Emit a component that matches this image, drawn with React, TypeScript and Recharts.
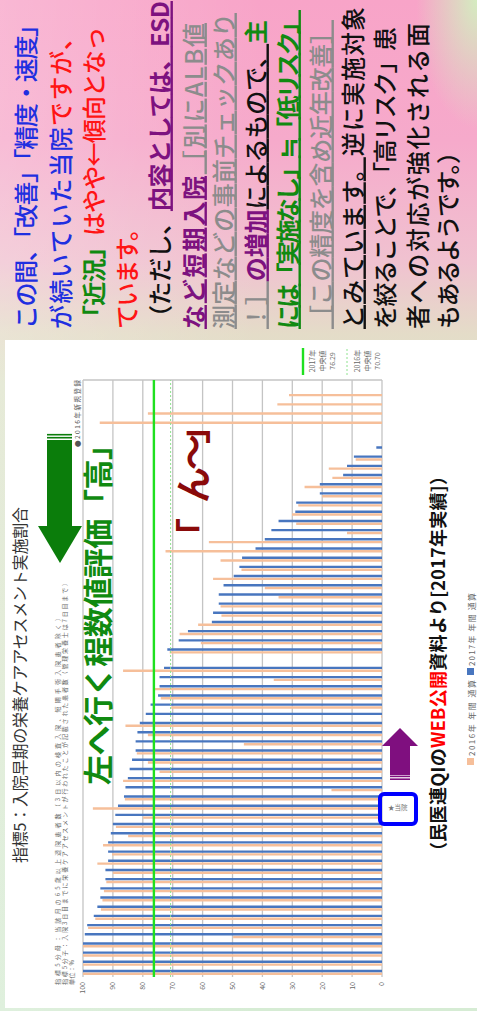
import React from "react";
import { BarChart, Bar, XAxis, YAxis, CartesianGrid, ReferenceLine } from "recharts";

// values, first entry = bottom row of the (rotated) chart
const rate2016 = [
  100, 100, 100, 100, 49.8, 98.3, 95.9, 94, 93.5, 93.0,
  92.2, 90, 95.2, 90.3, 93.3, 84.9, 89, 79.9, 96.7, 86,
  16.9, 86.6, 74.4, 78.3, 82, 46.2, 78.3, 85.8, 0.3, 70.5,
  74, 76.0, 36.2, 86.6, null, 71, 60.6, 67.7, 61.5, 53.7,
  54, 34.6, 39.2, 56.5, 47, 54.0, 72.4, 57.9, 11.7, 28.7,
  30.1, 28, 20, 25.9, 16.6, 17.8, 8.8, null, null, null,
  94.4, 78.3, 35.0, 31.1, null,
];
const rate2017 = [
  100, 100, 100, 100, 99.4, 98.6, 96.4, 95.2, 94.2, 94.2,
  92.5, 92.5, 91.6, 91.6, 91.6, 90.7, 90.0, 89.2, 88.3, 86.3,
  85.8, 85.0, 84.4, 83.6, 82.4, 82.4, 81.8, 81.0, 79.0, 77.4,
  74.9, 74.4, 74.4, 72.9, null, 71.8, 68.0, 64.9, 56.9, 56.5,
  54.6, 54.6, 53.0, 49.6, 47.7, 46.8, 42.3, 39.2, 37.0, 34.6,
  29.0, 28.7, 20.8, 20.8, 13.0, 11.7, 9.4, 1.9, null, null,
  null, null, null, null, null,
];
const OUR_HOSPITAL = "当院";
const ourIndex = 18;
const valueTicks = [0, 10, 20, 30, 40, 50, 60, 70, 80, 90, 100];
const median2017 = 76.29;
const median2016 = 70.7;

const data = rate2017.map((v, i) => ({
  name: i === ourIndex ? OUR_HOSPITAL : `病院${i + 1}`,
  y2016: rate2016[i],
  y2017: v,
}));

const FONT = "'Noto Sans CJK JP', 'Noto Sans', sans-serif";
const SLIDE_W = 1011;
const SLIDE_H = 477;

const BLUE_T = "#1f2fe0";
const RED_T = "#ff1414";
const GREEN_T = "#118a11";
const PURPLE_T = "#7d127f";
const GRAY_T = "#8c8c8c";
const BLACK_T = "#111";

type Seg = { t: string; c: string; b?: boolean; u?: boolean };
const textLines: { v: number; end: number; segs: Seg[] }[] = [
  { v: 26, end: 998, segs: [{ t: "この間、「改善」「精度・速度」", c: BLUE_T }] },
  { v: 61, end: 985, segs: [{ t: "が続いていた当院", c: BLUE_T }, { t: "ですが、", c: RED_T }] },
  { v: 94, end: 984, segs: [{ t: "「近況」", c: GREEN_T, b: true }, { t: "はやや←傾向となっ", c: RED_T }] },
  { v: 127, end: 794, segs: [{ t: "ています。", c: RED_T }] },
  { v: 160, end: 1010, segs: [{ t: "（ただし、", c: BLACK_T }, { t: "内容としては、ESD", c: PURPLE_T, b: true, u: true }] },
  { v: 194, end: 988, segs: [{ t: "など短期入院", c: PURPLE_T, b: true, u: true }, { t: "［別にALB値", c: GRAY_T, u: true }] },
  { v: 224, end: 998, segs: [{ t: "測定などの事前チェックあり", c: GRAY_T, u: true }] },
  { v: 256, end: 991, segs: [{ t: "！］", c: GRAY_T, u: true }, { t: "の増加", c: PURPLE_T, b: true, u: true }, { t: "によるもので、", c: BLACK_T, u: true }, { t: "主", c: GREEN_T, b: true }] },
  { v: 288, end: 1001, segs: [{ t: "には「実施なし」≒「低リスク」", c: GREEN_T, b: true, u: true }] },
  { v: 321, end: 991, segs: [{ t: "［この精度を含め近年改善］", c: GRAY_T, u: true }] },
  { v: 353, end: 1004, segs: [{ t: "とみています。", c: BLACK_T, u: true }, { t: "逆に実施対象", c: BLACK_T }] },
  { v: 385, end: 984, segs: [{ t: "を絞ることで、「高リスク」患", c: BLACK_T }] },
  { v: 418, end: 988, segs: [{ t: "者への対応が強化される面", c: BLACK_T }] },
  { v: 448, end: 871, segs: [{ t: "もあるようです。）", c: BLACK_T }] },
];

function HospitalTick(props: any) {
  const { x, y, payload } = props;
  if (payload?.value !== OUR_HOSPITAL) return <g />;
  return (
    <text x={x} y={y} dx={6} dy={2.5} transform={`rotate(90 ${x} ${y})`} fontSize={6.5} fill="#777" fontFamily={FONT}>
      ★当院
    </text>
  );
}

export default function App() {
  return (
    <div style={{ position: "absolute", left: 0, top: 0, width: 477, height: 1011, overflow: "hidden" }}>
      <div
        style={{
          position: "absolute",
          left: 0,
          top: 0,
          width: SLIDE_W,
          height: SLIDE_H,
          transformOrigin: "0 0",
          transform: `translateY(${SLIDE_W}px) rotate(-90deg)`,
          background:
            "radial-gradient(ellipse at 100% 100%, #d4ecc0 0%, rgba(212,236,192,0) 9%), linear-gradient(180deg, rgba(255,255,255,0.22), rgba(255,255,255,0) 55%), linear-gradient(90deg, #d6ecd4 0%, #dfe4cc 62%, #e4dcc8 67%, #f0c2d0 74%, #f6aacb 86%, #f8a4c8 100%)",
          fontFamily: FONT,
        }}
      >
        <div style={{ position: "absolute", left: 3, top: 5, width: 668, height: 472, background: "#fff" }}>
          <BarChart
            width={668}
            height={472}
            data={data}
            margin={{ top: 78, right: 40, bottom: 65, left: 3 }}
            barSize={2.4}
            barGap={0.4}
          >
            <CartesianGrid vertical verticalPoints={[628]} stroke="#c4c4c4" strokeWidth={1.3} />
            <XAxis
              dataKey="name"
              interval={0}
              tick={HospitalTick}
              axisLine={false}
              tickLine={false}
              tickSize={0}
              tickMargin={0}
              height={30}
            />
            <YAxis
              domain={[0, 100]}
              ticks={valueTicks}
              width={28}
              axisLine={false}
              tickLine={false}
              tickSize={0}
              tickMargin={5}
              tick={{ fontSize: 7, fill: "#666", fontFamily: FONT }}
            />
            <Bar dataKey="y2016" name="2016年 年間 通算" fill="#f6bf9a" isAnimationActive={false} />
            <Bar dataKey="y2017" name="2017年 年間 通算" fill="#4876bf" isAnimationActive={false} />
            <ReferenceLine y={median2016} stroke="#8ee28e" strokeDasharray="2 2" strokeWidth={1} />
            <ReferenceLine y={median2017} stroke="#1fe01f" strokeWidth={2.4} />
          </BarChart>
        </div>

        <svg style={{ position: "absolute", left: 0, top: 0, pointerEvents: "none" }} width={SLIDE_W} height={SLIDE_H}>
          {/* chart header texts */}
          <text x={148} y={26} fontSize={16} fill="#333" textLength={356} lengthAdjust="spacing">
            指標5：入院早期の栄養ケアアセスメント実施割合
          </text>
          <text x={26} y={60} fontSize={6} fill="#666" textLength={370} lengthAdjust="spacing">
            指標5分母：当該月の65歳以上退院患者数（3日以内の検査入院、短期手術入院患者除く）
          </text>
          <text x={26} y={67} fontSize={6} fill="#666" textLength={405} lengthAdjust="spacing">
            指標5分子：入院3日目までに栄養ケアアセスメントが行われたことが記載された患者数（管理栄養士は7日目まで）
          </text>
          <text x={26} y={74} fontSize={6} fill="#666" textLength={25} lengthAdjust="spacing">
            単位：%
          </text>
          <text x={564} y={80} fontSize={6.5} fill="#555" textLength={67} lengthAdjust="spacing">
            ●2016年新規登録
          </text>

          {/* median legend */}
          <line x1={636} x2={663} y1={303} y2={303} stroke="#1fe01f" strokeWidth={2.4} />
          <text x={650} y={315} fontSize={7} fill="#666" textAnchor="middle">2017年</text>
          <text x={650} y={325} fontSize={7} fill="#666" textAnchor="middle">中央値</text>
          <text x={650} y={335} fontSize={7} fill="#666" textAnchor="middle">76.29</text>
          <line x1={636} x2={663} y1={347} y2={347} stroke="#8ee28e" strokeWidth={1} strokeDasharray="2 2" />
          <text x={650} y={360} fontSize={7} fill="#666" textAnchor="middle">2016年</text>
          <text x={650} y={370} fontSize={7} fill="#666" textAnchor="middle">中央値</text>
          <text x={650} y={380} fontSize={7} fill="#666" textAnchor="middle">70.70</text>

          {/* series legend */}
          <rect x={246} y={467} width={7} height={7} fill="#f6bf9a" />
          <text x={255} y={474.5} fontSize={8} fill="#666" textLength={76} lengthAdjust="spacing">2016年 年間 通算</text>
          <rect x={336} y={467} width={7} height={7} fill="#4876bf" />
          <text x={345} y={474.5} fontSize={8} fill="#666" textLength={73} lengthAdjust="spacing">2017年 年間 通算</text>

          {/* annotations */}
          <rect x={484} y={47} width={87} height={25} fill="#0b7d0b" />
          <rect x={572.5} y={47} width={1.6} height={25} fill="#0b7d0b" />
          <rect x={575.5} y={47} width={1.6} height={25} fill="#0b7d0b" />
          <polygon points="448,60 485,38 485,82" fill="#0b7d0b" />

          <text x={226} y={109} fontSize={30} fontWeight={700} fill="#108a10" textLength={355} lengthAdjust="spacing">
            左へ行く程数値評価「高」
          </text>
          <g fontSize={36} fontWeight={700} fill="#8a0a0a">
            <text x={457} y={207}>「</text>
            <text x={508} y={207}>ん</text>
            <text x={541} y={207}>〜</text>
            <text x={567} y={207}>」</text>
          </g>

          <rect x={236} y={390} width={30} height={20} fill="#7f0f7f" />
          <rect x={231} y={390} width={1.6} height={20} fill="#7f0f7f" />
          <rect x={233.8} y={390} width={1.6} height={20} fill="#7f0f7f" />
          <polygon points="283,400 265,382 265,418" fill="#7f0f7f" />

          <rect x={187} y={380} width={30} height={36} rx={4} fill="none" stroke="#0000ff" strokeWidth={4} />

          <text x={151} y={445} fontSize={18} fontWeight={700} fill="#111" textLength={393} lengthAdjust="spacing">
            （民医連QIの<tspan fill="#ff0000">WEB公開</tspan>資料より[2017年実績]）
          </text>

          {/* slide text */}
          {textLines.map((ln, i) => (
            <text key={i} x={682} y={ln.v + 8.5} fontSize={24} fontWeight={500} textLength={ln.end - 682} lengthAdjust="spacing">
              {ln.segs.map((s, j) => (
                <tspan key={j} fill={s.c} fontWeight={s.b ? 700 : 500} style={s.u ? { textDecoration: "underline" } : undefined}>
                  {s.t}
                </tspan>
              ))}
            </text>
          ))}
        </svg>
      </div>
    </div>
  );
}
